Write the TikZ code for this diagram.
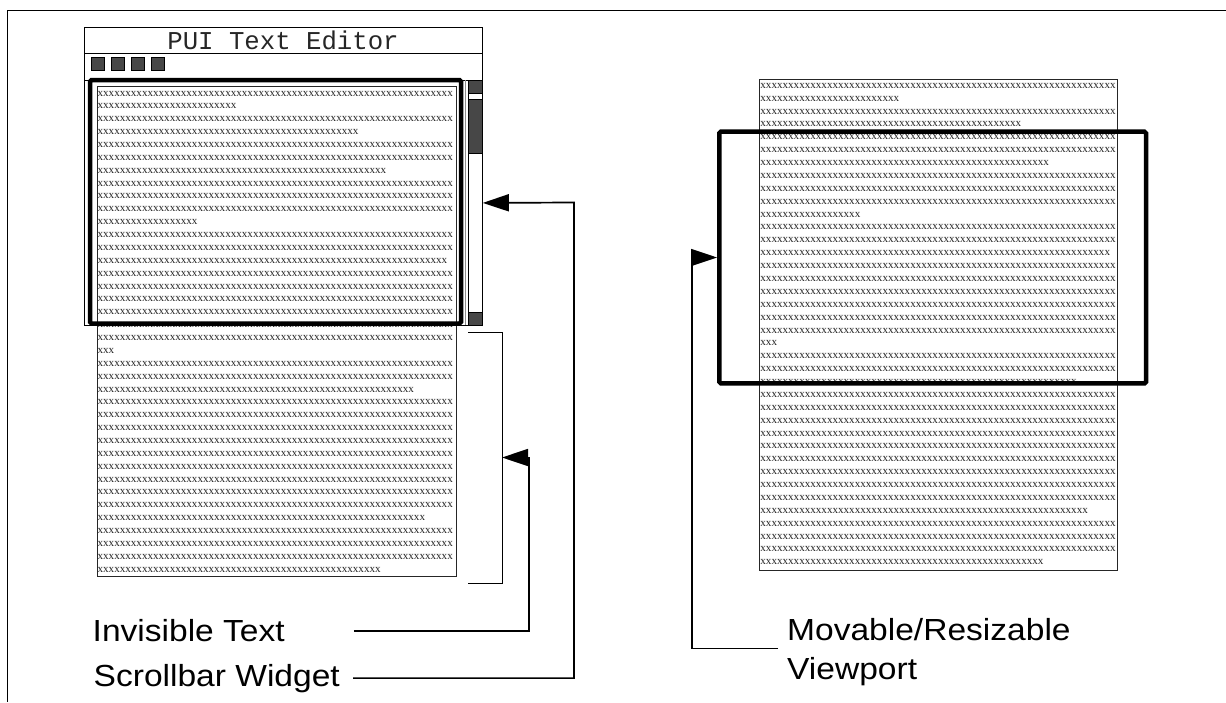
\documentclass[tikz,border=0pt]{standalone}
\usepackage{fontspec}
\setmainfont{Liberation Sans}
\newfontfamily\labfont[FakeStretch=1.1]{Liberation Sans}
\newfontfamily\xfont{Liberation Serif}
\newfontfamily\ttlfont{Liberation Mono}
\usetikzlibrary{arrows.meta}
\ExplSyntaxOn
\cs_new:Npn \xrun #1 { \prg_replicate:nn {#1} {x} }
\ExplSyntaxOff
\begin{document}
\begin{tikzpicture}[x=1pt,y=-1pt,
  docbox/.style={draw=black!85, line width=0.9pt, inner sep=0pt, anchor=north west},
  xline/.style={anchor=base west, inner sep=0pt, text=black!85, font=\xfont\fontsize{11.1}{12}\selectfont},
  wline/.style={draw=black, line width=0.9pt},
  darkfill/.style={draw=black, line width=0.8pt, fill=black!72, inner sep=0pt},
  vport/.style={draw=black, line width=4.5pt, rounded corners=1.5pt, inner sep=0pt},
  conn/.style={draw=black, line width=1.7pt},
  headed/.style={-{Triangle[length=26pt,width=17pt]}},
  lab/.style={inner sep=0pt, font=\labfont\fontsize{30.5}{39}\selectfont}
]
\useasboundingbox (0,0) rectangle (1226,702);
% outer frame
\draw[wline] (1226,10) -- (7.3,10) -- (7.3,702);
% left document
\node[docbox, minimum width=359pt, minimum height=490pt] (ldoc) at (96.7,86) {};
\foreach \n [count=\i] in {64,25,64,47,64,64,52,64,64,64,18,64,64,63,64,64,64,64,64,64,3,64,64,57,64,64,64,64,64,64,64,64,64,59,64,64,64,51}{
  \node[xline] (L\i) at ({97.4},{96+(\i-1)*12.87}) {\xrun{\n}};
}
% window
\draw[wline] (84,27) rectangle (482,325);
\draw[wline] (84,53) -- (482,53);
\draw[wline] (84,80) -- (482,80);
\draw[black!45, line width=0.8pt] (465,80) -- (465,325);
\node[font=\ttlfont\fontsize{25.7}{26}\selectfont, inner sep=0pt, text=black!85] (ttl) at (283,40.5) {PUI Text Editor};
\foreach \k in {0,1,2,3}{
  \node[darkfill, minimum width=13pt, minimum height=13pt, anchor=north west] (ic\k) at ({90.5+\k*20},57) {};
}
% scrollbar
\node[draw=black, line width=0.8pt, minimum width=14pt, minimum height=245pt, inner sep=0pt, anchor=north west] (sb) at (468,80) {};
\node[darkfill, minimum width=14pt, minimum height=13pt, anchor=north west] (sbt) at (468,80) {};
\node[darkfill, minimum width=14pt, minimum height=53.5pt, anchor=north west] (sbth) at (468,99.3) {};
\node[darkfill, minimum width=14pt, minimum height=13.3pt, anchor=north west] (sbb) at (468,311.7) {};
% left viewport
\node[vport, minimum width=371pt, minimum height=243.5pt] (vpL) at (275.5,201.75) {};
% bracket
\coordinate (brT) at (502,332);
\coordinate (brB) at (502,583);
\coordinate (brM) at (502,457.5);
\draw[wline] (468,332) -- (brT) -- (brB) -- (468,583);
% right document
\node[docbox, minimum width=357.7pt, minimum height=490.7pt] (rdoc) at (759.3,79.3) {};
\foreach \n [count=\i] in {64,25,64,47,64,64,52,64,64,64,18,64,64,63,64,64,64,64,64,64,3,64,64,57,64,64,64,64,64,64,64,64,64,59,64,64,64,51}{
  \node[xline] (R\i) at ({760.2},{88.3+(\i-1)*12.88}) {\xrun{\n}};
}
\node[vport, minimum width=426.7pt, minimum height=251.6pt] (vpR) at (932.65,257.5) {};
% labels
\node[lab, anchor=base west] (it) at (92.5,641.7) {Invisible Text};
\node[lab, anchor=base west] (sw) at (93.5,686) {Scrollbar Widget};
\node[lab, anchor=base west, align=left] (mv) at (787,679) {Movable/Resizable\\Viewport};
% connectors
\coordinate (sbk) at (574,202.5);
\coordinate (itk) at (529,457.5);
\coordinate (mvk) at (692,257.5);
\draw[conn, headed] ([xshift=13pt]sw.east) -| (sbk) -- (sb.east);
\draw[conn, headed] ([xshift=69pt]it.east) -| (itk) -- (brM);
\draw[conn, headed] ([xshift=-9pt,yshift=3pt]mv.west) -| (mvk) -- (vpR.west);
\end{tikzpicture}
\end{document}
